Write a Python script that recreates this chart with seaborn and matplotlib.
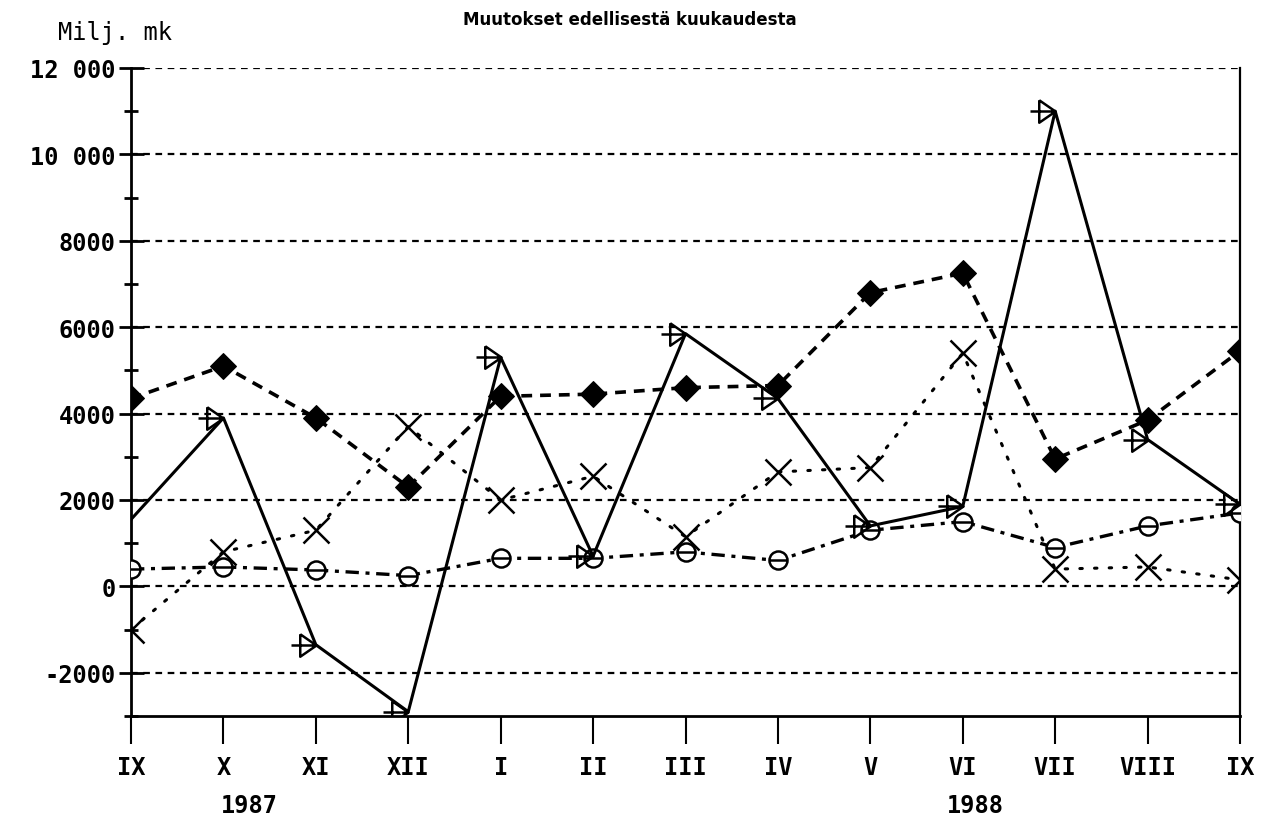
import numpy as np
import pandas as pd
import matplotlib
matplotlib.use("Agg")
import matplotlib.pyplot as plt
from matplotlib.path import Path
import seaborn as sns

months = ["IX", "X", "XI", "XII", "I", "II", "III", "IV", "V", "VI", "VII", "VIII", "IX"]

# Muutokset edellisestä kuukaudesta, milj. mk
solid_arrow = [1550, 3900, -1350, -2900, 5300, 700, 5850, 4350, 1400, 1850, 11000, 3400, 1900]
dashed_diamond = [4350, 5100, 3900, 2300, 4400, 4450, 4600, 4650, 6800, 7250, 2950, 3850, 5450]
dotted_cross = [-1000, 800, 1300, 3700, 2000, 2550, 1150, 2650, 2750, 5400, 400, 450, 150]
dashdot_circle = [400, 450, 380, 250, 650, 650, 800, 600, 1300, 1500, 900, 1400, 1700]

sns.set_style("ticks")
plt.rcParams['font.family'] = ['DejaVu Sans Mono', 'DejaVu Sans']
plt.rcParams['text.color'] = 'black'
plt.rcParams['xtick.color'] = 'black'
plt.rcParams['ytick.color'] = 'black'

# "+>" marker: stem from the left and a triangle whose tip sits on the point
arrow_marker = Path(
    [(-1.0, 0.0), (0.0, 0.0), (-0.65, 0.45), (0.0, 0.0), (-0.65, -0.45), (-0.65, 0.45)],
    [Path.MOVETO, Path.LINETO, Path.MOVETO, Path.LINETO, Path.LINETO, Path.LINETO])
# circle with a horizontal bar
circ = Path.unit_circle()
bar_circle = Path(np.vstack([circ.vertices, [[-1.0, 0.0], [1.0, 0.0]]]),
                  np.concatenate([circ.codes, [Path.MOVETO, Path.LINETO]]))

x = np.arange(len(months))

fig = plt.figure(figsize=(12.67, 8.2), dpi=100)
ax = fig.add_axes([0.1034, 0.1256, 0.8753, 0.7903])

# grid lines
for g in [-2000, 0, 2000, 4000, 6000, 8000, 10000, 12000]:
    ax.axhline(g, color='black', lw=1.6, linestyle=(0, (3, 2.5)), zorder=1)

sns.lineplot(x=x, y=dashed_diamond, ax=ax, color='black', lw=2.6,
             linestyle=(0, (3, 2.2)), marker='D', markersize=13,
             markerfacecolor='black', markeredgecolor='black', zorder=3)
sns.lineplot(x=x, y=dotted_cross, ax=ax, color='black', lw=2.2,
             linestyle=(0, (0.8, 4)), dash_capstyle='round', marker='x', markersize=19,
             markeredgewidth=1.8, markeredgecolor='black', zorder=3)
sns.lineplot(x=x, y=dashdot_circle, ax=ax, color='black', lw=2.4,
             linestyle=(0, (4, 2, 1.2, 2)), marker=bar_circle, markersize=13,
             markeredgewidth=1.8, markeredgecolor='black', markerfacecolor='white',
             zorder=3)
sns.lineplot(x=x, y=solid_arrow, ax=ax, color='black', lw=2.2,
             marker=arrow_marker, markersize=36, markerfacecolor='none',
             markeredgecolor='black', markeredgewidth=1.8, zorder=4)

ax.set_xlim(0, 12)
ax.set_ylim(-3000, 12000)

ax.set_xticks(x)
ax.set_xticklabels(months, fontsize=17)
ax.set_yticks([-2000, 0, 2000, 4000, 6000, 8000, 10000, 12000])
ax.set_yticklabels(["-2000", "0", "2000", "4000", "6000", "8000", "10 000", "12 000"],
                   fontsize=17, fontweight='bold')
ax.set_yticks(np.arange(-3000, 12001, 1000), minor=True)
for lab in ax.get_xticklabels():
    lab.set_fontweight('bold')

ax.tick_params(axis='y', which='major', direction='inout', length=18, width=2, pad=2)
ax.tick_params(axis='y', which='minor', direction='inout', length=10, width=2)
ax.tick_params(axis='x', which='major', direction='out', length=20, width=1.5, pad=8)

for side in ['left', 'bottom', 'right']:
    ax.spines[side].set_linewidth(2)
    ax.spines[side].set_color('black')
ax.spines['top'].set_visible(False)
ax.spines['right'].set_visible(True)
ax.spines['right'].set_linewidth(1.6)

fig.text(0.046, 0.945, "Milj. mk", fontsize=17, ha='left', va='bottom')
fig.text(0.497, 0.976, "Muutokset edellisestä kuukaudesta", fontsize=12,
         fontweight='bold', ha='center', va='center', family='DejaVu Sans')
fig.text(0.197, 0.003, "1987", fontsize=17, fontweight='bold', ha='center', va='bottom')
fig.text(0.770, 0.003, "1988", fontsize=17, fontweight='bold', ha='center', va='bottom')

fig.savefig("out.png", dpi=100, facecolor='white')
